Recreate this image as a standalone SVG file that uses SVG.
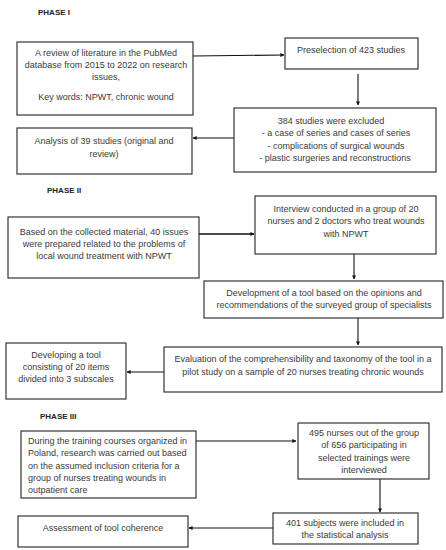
<svg xmlns="http://www.w3.org/2000/svg" width="446" height="550" viewBox="0 0 446 550">
<defs>
<marker id="ah" viewBox="0 0 10 10" refX="9" refY="5" markerWidth="4" markerHeight="4" orient="auto" markerUnits="userSpaceOnUse">
<path d="M0,0 L10,5 L0,10 z" fill="#111"/>
</marker>
<style>
.box{fill:#fff;stroke:#222;stroke-width:1.1}
.t{font-family:"Liberation Sans",Arial,sans-serif;font-size:9px;fill:#3a3a3a;text-anchor:middle}
.l{text-anchor:start}
.h{font-family:"Liberation Sans",Arial,sans-serif;font-size:8px;font-weight:bold;fill:#222}
.c{stroke:#111;stroke-width:1.1;fill:none;marker-end:url(#ah)}
.c2{stroke:#111;stroke-width:1.6;fill:none;marker-end:url(#ah)}
</style>
</defs>
<rect width="446" height="550" fill="#fff"/>
<text class="h" x="38" y="15">PHASE I</text>
<text class="h" x="47" y="193">PHASE II</text>
<text class="h" x="40" y="419">PHASE III</text>

<g id="connectors">
<path class="c" d="M193,56 L284,55"/>
<path class="c" d="M358,74 L358,105"/>
<path class="c" d="M234,138 L193,138"/>
<path class="c2" d="M199,234 L254,234"/>
<path class="c" d="M354,254 L354,279"/>
<path class="c" d="M358,318 L358,345"/>
<path class="c" d="M164,372 L127,372"/>
<path class="c" d="M196,441 L296,441"/>
<path class="c" d="M380,479 L380,512"/>
<path class="c" d="M273,528 L189,528"/>
</g>

<g id="n1">
<rect class="box" x="17" y="42" width="176" height="73"/>
<text class="t" x="106" y="56">A review of literature in the PubMed</text>
<text class="t" x="106" y="68">database from 2015 to 2022 on research</text>
<text class="t" x="106" y="80">issues,</text>
<text class="t" x="106" y="100">Key words: NPWT, chronic wound</text>
</g>
<g id="n2">
<rect class="box" x="285" y="38" width="133" height="31"/>
<text class="t" x="351" y="53">Preselection of 423 studies</text>
</g>
<g id="n3">
<rect class="box" x="234" y="108" width="202" height="64"/>
<text class="t" x="331" y="124">384 studies were excluded</text>
<text class="t" x="336" y="136">- a case of series and cases of series</text>
<text class="t" x="336" y="149">- complications of surgical wounds</text>
<text class="t" x="335" y="161">- plastic surgeries and reconstructions</text>
</g>
<g id="n4">
<rect class="box" x="17" y="128" width="175" height="46"/>
<text class="t" x="104" y="144">Analysis of 39 studies (original and</text>
<text class="t" x="104" y="157">review)</text>
</g>

<g id="n5">
<rect class="box" x="8" y="217" width="191" height="61"/>
<text class="t" x="104" y="235">Based on the collected material, 40 issues</text>
<text class="t" x="104" y="247">were prepared related to the problems of</text>
<text class="t" x="104" y="259">local wound treatment with NPWT</text>
</g>
<g id="n6">
<rect class="box" x="255" y="196" width="181" height="58"/>
<text class="t" x="346" y="212">Interview conducted in a group of 20</text>
<text class="t" x="346" y="224">nurses and 2 doctors who treat wounds</text>
<text class="t" x="346" y="237">with NPWT</text>
</g>
<g id="n7">
<rect class="box" x="204" y="281" width="239" height="37"/>
<text class="t" x="324" y="296">Development of a tool based on the opinions and</text>
<text class="t" x="324" y="308">recommendations of the surveyed group of specialists</text>
</g>
<g id="n8">
<rect class="box" x="164" y="347" width="278" height="45"/>
<text class="t" x="303" y="362">Evaluation of the comprehensibility and taxonomy of the tool in a</text>
<text class="t" x="303" y="375">pilot study on a sample of 20 nurses treating chronic wounds</text>
</g>
<g id="n9">
<rect class="box" x="6" y="343" width="120" height="56"/>
<text class="t" x="66" y="358">Developing a tool</text>
<text class="t" x="66" y="370">consisting of 20 items</text>
<text class="t" x="66" y="382">divided into 3 subscales</text>
</g>

<g id="n10">
<rect class="box" x="21" y="431" width="175" height="67"/>
<text class="t l" x="28" y="444">During the training courses organized in</text>
<text class="t l" x="28" y="456">Poland, research was carried out based</text>
<text class="t l" x="28" y="469">on the assumed inclusion criteria for a</text>
<text class="t l" x="28" y="481">group of nurses treating wounds in</text>
<text class="t l" x="28" y="493">outpatient care</text>
</g>
<g id="n11">
<rect class="box" x="298" y="423" width="131" height="56"/>
<text class="t" x="364" y="436">495 nurses out of the group</text>
<text class="t" x="364" y="448">of 656 participating in</text>
<text class="t" x="364" y="461">selected trainings were</text>
<text class="t" x="364" y="473">interviewed</text>
</g>
<g id="n12">
<rect class="box" x="273" y="513" width="145" height="31"/>
<text class="t" x="345" y="526">401 subjects were included in</text>
<text class="t" x="345" y="538">the statistical analysis</text>
</g>
<g id="n13">
<rect class="box" x="18" y="516" width="170" height="31"/>
<text class="t" x="103" y="531">Assessment of tool coherence</text>
</g>
</svg>
